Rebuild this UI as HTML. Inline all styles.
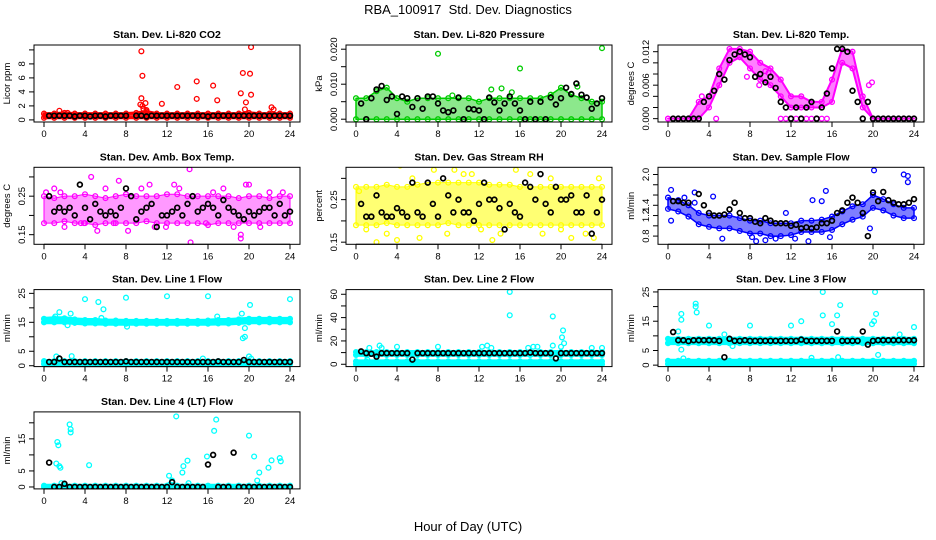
<!DOCTYPE html>
<html><head><meta charset="utf-8"><title>RBA_100917 Std. Dev. Diagnostics</title>
<style>
html,body{margin:0;padding:0;background:#fff;}
svg{display:block;font-family:"Liberation Sans",sans-serif;}
</style></head>
<body>
<svg id="chart" width="936" height="540" viewBox="0 0 936 540" xmlns="http://www.w3.org/2000/svg">
<rect x="0" y="0" width="936" height="540" fill="#fff"/>
<text x="468" y="14" text-anchor="middle" font-size="13">RBA_100917 &#160;Std. Dev. Diagnostics</text>
<text x="468" y="531" text-anchor="middle" font-size="13">Hour of Day (UTC)</text>
</svg>
<script>
const xTicks = [0,4,8,12,16,20,24];

const co2Lo = [0.3,0.3,0.3,0.3,0.3,0.3,0.3,0.3,0.3,0.3,0.3,0.3,0.3,0.3,0.3,0.3,0.3,0.3,0.3,0.3,0.3,0.3,0.3,0.3,0.3];
const co2Hi = [0.9,0.9,1.0,0.9,0.9,0.9,0.9,0.9,0.9,1.0,1.2,0.9,0.9,0.9,0.9,0.9,0.9,0.9,0.9,0.9,1.0,0.9,0.9,0.9,0.9];
const co2Black = [null,0.6,0.6,0.6,0.6,0.6,0.5, 0.6,0.6,0.5,0.6,0.6,0.5,0.6, 0.6,0.6,0.6,null,0.6,0.6,0.5, 0.6,0.6,0.6,0.6,0.6,0.6,0.6, 0.6,0.6,0.6,0.6,0.5,0.6,0.6, 0.6,0.6,0.6,0.6,0.6,0.6,0.6, 0.6,0.6,0.6,0.6,0.6,0.6,0.6];
const co2OutX = [9.5,9.6,9.5,9.4,9.9,9.7,11.5,13,14.9,14.9,16.5,16.9,19.2,19.4,19.7,19.6,20.1,20.2,20.2,22.2,22.4,1.5,2.3,9.6,10.0];
const co2OutY = [9.8,6.3,3.1,2.2,2.4,1.6,2.3,4.7,5.5,3.0,4.9,2.8,3.8,6.7,2.5,1.5,6.6,3.6,10.4,1.8,1.5,1.3,1.0,2.0,1.4];

const presLo = [0,0,0,0,0,0,0,0,0,0,0,0,0,0,0,0,0,0,0,0,0,0,0,0,0];
const presHi = [0.006,0.006,0.008,0.009,0.006,0.005,0.006,0.006,0.006,0.006,0.006,0.006,0.005,0.006,0.006,0.006,0.006,0.006,0.006,0.007,0.009,0.007,0.006,0.005,0.005];
const presBlack = [null,0.0045,0,0.006,0.0085,0.0095,0.0055, 0.0065,0.0015,0.0065,0.006,0.0035,0.006,0.003, 0.0065,0.0065,0.0045,0.0025,0.002,0.0025,0.0062, 0,0.003,0.0028,0.0025,0,0.0062,0.0048, 0.0025,0.0045,0.0065,0.0045,0.0025,0,0.005, 0,0.005,0,0.0062,0.0042,0.006,0.009, 0.0072,0.0102,0.007,0.0062,0.003,0.0045,0.006];
const presOutX = [8,16,24,13.2,14.2,15.2,21.6,9.4];
const presOutY = [0.0187,0.0145,0.0203,0.0085,0.0088,0.0077,0.0093,0.0068];

const tempLo = [0,0,0,0,0.002,0.006,0.010,0.011,0.009,0.007,0.006,0.004,0.002,0.002,0.002,0.002,0.003,0.010,0.009,0.002,0,0,0,0,0];
const tempHi = [0,0,0,0.003,0.004,0.009,0.0125,0.0125,0.012,0.010,0.009,0.007,0.004,0.004,0.003,0.003,0.007,0.0125,0.012,0.004,0,0,0,0,0];
const tempBlack = [null,0,0,0,0,0,0, 0.003,0.004,0.005,0.008,0.007,0.0105,0.0115, 0.012,0.0115,0.011,0.0075,0.008,0.0065,0.0075, 0.0055,0.003,0.002,0,0.002,0,0.002, 0.003,0,0.002,0.0045,0.009,0.0125,0.0125, 0.012,0.005,0.003,0,0.003,0,0, 0,0,0,0,0,0,0];
const tempOutX = [11,11.5,12,12.5,13,13.5,14,14.5,15,15.5,4.7,3.3,9.5,9.8,7.7,19.6,19.9,8.9];
const tempOutY = [0,0,0,0,0,0,0,0,0,0,0,0.004,0.0085,0.0082,0.0075,0.006,0.0065,0.006];

const ambLo = [0.18,0.18,0.185,0.18,0.18,0.175,0.18,0.18,0.18,0.18,0.185,0.18,0.18,0.18,0.18,0.18,0.175,0.18,0.18,0.18,0.18,0.18,0.18,0.18,0.18];
const ambHi = [0.25,0.245,0.25,0.25,0.255,0.25,0.245,0.25,0.255,0.25,0.25,0.25,0.255,0.255,0.25,0.25,0.25,0.25,0.25,0.245,0.25,0.25,0.245,0.25,0.25];
const ambBlack = [null,0.25,0.21,0.22,0.21,0.22,0.20, 0.28,0.22,0.19,0.23,0.21,0.20,0.21, 0.20,0.22,0.27,0.25,0.19,0.21,0.22, 0.23,0.17,0.20,0.20,0.21,0.22,0.20, 0.23,0.25,0.21,0.22,0.23,0.22,0.20, 0.24,0.22,0.21,0.20,0.19,0.21,0.20, 0.21,0.22,0.22,0.20,0.23,0.20,0.21];
const ambOutX = [4.6,3.6,6.8,7.3,9.5,11.9,14.2,14.3,15.8,19.2,19.2,19.7,20,21.1,22,23.3,2,5.2,6,8.2,10.3,12.7,16.5,17.5,1,0.2,10.8,13.2,3.9,1.6,18.5];
const ambOutY = [0.30,0.18,0.18,0.29,0.27,0.17,0.32,0.13,0.18,0.14,0.15,0.28,0.28,0.17,0.26,0.26,0.17,0.16,0.27,0.16,0.28,0.28,0.26,0.27,0.27,0.26,0.17,0.27,0.18,0.26,0.17];

const rhLo = [0.19,0.19,0.19,0.195,0.19,0.19,0.19,0.19,0.19,0.195,0.19,0.19,0.19,0.19,0.19,0.19,0.19,0.19,0.19,0.19,0.19,0.19,0.19,0.19,0.19];
const rhHi = [0.28,0.28,0.28,0.285,0.28,0.28,0.285,0.29,0.29,0.29,0.29,0.29,0.29,0.285,0.285,0.285,0.28,0.28,0.28,0.28,0.28,0.28,0.28,0.28,0.28];
const rhBlack = [null,0.24,0.21,0.21,0.26,0.22,0.21, 0.21,0.23,0.22,0.21,0.29,0.22,0.21, 0.29,0.24,0.21,0.30,0.26,0.22,0.25, 0.22,0.22,0.20,0.24,0.29,0.25,0.25, 0.23,0.18,0.24,0.22,0.21,0.29,0.28, 0.25,0.31,0.24,0.22,0.28,0.25,0.25, 0.26,0.22,0.22,0.26,0.17,0.22,0.25];
const rhOutX = [4.3,2,4,6.2,9.6,11.3,13.3,14.1,17,18.2,21,22.4,23.2,0.3,1,7.6,15.6,20,12.2,3,8.9,19,23.7,10.5,5.5];
const rhOutY = [0.33,0.15,0.155,0.16,0.32,0.31,0.155,0.17,0.31,0.17,0.16,0.17,0.16,0.27,0.18,0.32,0.32,0.18,0.18,0.17,0.17,0.30,0.30,0.31,0.30];

const flowLo = [1.33,1.28,1.18,1.03,0.98,0.95,0.95,0.9,0.85,0.85,0.8,0.8,0.82,0.88,0.88,0.88,0.92,1.03,1.12,1.18,1.35,1.3,1.2,1.15,1.15];
const flowHi = [1.55,1.5,1.4,1.25,1.2,1.2,1.2,1.15,1.1,1.1,1.05,1.05,1.05,1.1,1.1,1.12,1.18,1.28,1.38,1.42,1.6,1.52,1.42,1.35,1.35];
const flowBlack = [null,1.48,1.48,1.45,1.45,null,1.62, 1.4,1.25,1.2,1.2,1.22,1.32,1.45, 1.25,1.15,1.15,1.08,1.05,1.15,1.1, 1.05,1.05,1.05,1.0,1.02,0.95,0.97, 0.95,0.97,1.05,1.05,1.1,1.25,1.3, 1.45,1.55,1.45,1.25,0.8,1.65,1.48, 1.66,1.5,1.45,1.42,1.42,1.45,1.52];
const flowOutX = [0.3,0.3,1.6,2.6,2.6,4.4,15.4,20.1,23,23.4,23.4,8.2,8.6,5.3,12.4,13.7,15.8,19.7,14.1,15,11.5,9.5,10.5];
const flowOutY = [1.7,1.1,1.55,1.65,1.45,1.57,1.68,2.08,2.0,1.97,1.85,0.78,0.7,0.75,0.75,0.7,0.78,0.95,1.5,1.48,1.25,0.72,0.75];

const l1Lo = [15,15,15,14.8,14.6,14.6,14.5,14.5,14.5,14.5,14.5,14.5,14.5,14.5,14.5,14.5,14.5,14.6,14.6,14.8,15,15,15,15,15];
const l1Hi = [16.2,16.4,16.4,16,15.8,15.8,15.6,15.6,15.5,15.5,15.5,15.5,15.5,15.5,15.5,15.5,15.6,15.8,15.8,16,16.2,16.2,16.2,16.2,16.2];
const l1Lo2 = [0.6,0.6,0.6,0.6,0.6,0.6,0.6,0.6,0.6,0.6,0.6,0.6,0.6,0.6,0.6,0.6,0.6,0.6,0.6,0.6,0.6,0.6,0.6,0.6,0.6];
const l1Hi2 = [1.6,1.6,1.6,1.6,1.6,1.6,1.6,1.6,1.6,1.6,1.6,1.6,1.6,1.6,1.6,1.6,1.6,1.6,1.6,1.6,1.6,1.6,1.6,1.6,1.6];
const l1Black = [null,1.3,1.3,2.5,1.3,1.3,1.3, 1.3,1.3,1.3,1.3,1.3,1.3,1.3, 1.3,1.3,1.5,1.3,1.3,1.3,1.3, 1.3,1.3,1.3,1.3,1.3,1.3,1.3, 1.3,1.3,1.3,1.3,1.3,1.3,1.5, 1.3,1.3,1.3,1.3,2.0,1.3,1.3, 1.3,1.3,1.3,1.3,1.3,1.3,1.3];
const l1OutX = [1.5,1.1,2.6,2.3,4,5.3,5.6,5.8,8,8.1,12,16,16.9,19.3,19.6,19.4,19.6,20.1,24,1.2,2.7,15.5,20,20.2];
const l1OutY = [18.5,17,18,14,23,22,16.5,19.5,23.5,13.5,24,24,17,18,13,9.5,10,21,23,3.2,3.3,2.5,3.2,2.5];

const l2Lo = [8,8,8,8,8,8,8,8,8,8,8,8,8,8,8,8,8,8,8,8,8,8,8,8,8];
const l2Hi = [10.5,10.5,10.5,10.5,10.5,10.5,10.5,10.5,10.5,10.5,10.5,10.5,10.5,10.5,10.5,10.5,10.5,10.5,10.5,10.5,10.5,10.5,10.5,10.5,10.5];
const l2Lo2 = [0,0,0,0,0,0,0,0,0,0,0,0,0,0,0,0,0,0,0,0,0,0,0,0,0];
const l2Hi2 = [2.5,2.5,2.5,2.5,2.5,2.5,2.5,2.5,2.5,2.5,2.5,2.5,2.5,2.5,2.5,2.5,2.5,2.5,2.5,2.5,2.5,2.5,2.5,2.5,2.5];
const l2Black = [null,11,9.5,9,6.5,9.5,9.5, 9.5,9.5,9.5,9.5,4,9.5,9.5, 9.5,9.5,9.5,9.5,9.5,9.5,9.5, 9.5,9.5,9.5,9.5,9.5,9.5,9.5, 9.5,9.5,9.5,9.5,9.5,9.5,10, 9.5,9.5,9.5,9.5,5,9.5,9.5, 9.5,9.5,9.5,9.5,9.5,9.5,9.5];
const l2OutX = [15,15,19.2,20.2,20.1,20.3,20,1.3,2.3,2.5,4,8,12.3,12.8,13.2,16.8,17.3,17.7,19.2,23,24,1.1,19.8];
const l2OutY = [62,42,41,29,23,18,15,14,16,14,15,15,15,16,14,14,15,15,16,14,14,4,8];

const l3Lo = [7.5,7.5,7.5,7.5,7.5,7.5,7.5,7.5,7.5,7.5,7.5,7.5,7.5,7.5,7.5,7.5,7.5,7.5,7.5,7.5,7.5,7.5,7.5,7.5,7.5];
const l3Hi = [9,9,9,9,9,9,9,9,9,9,9,9,9,9,9,9,9,9,9,9,9,9,9,9,9];
const l3Lo2 = [0.4,0.4,0.4,0.4,0.4,0.4,0.4,0.4,0.4,0.4,0.4,0.4,0.4,0.4,0.4,0.4,0.4,0.4,0.4,0.4,0.4,0.4,0.4,0.4,0.4];
const l3Hi2 = [1.5,1.5,1.5,1.5,1.5,1.5,1.5,1.5,1.5,1.5,1.5,1.5,1.5,1.5,1.5,1.5,1.5,1.5,1.5,1.5,1.5,1.5,1.5,1.5,1.5];
const l3Black = [null,11.3,8.5,8.5,8.2,8.5,8.5, 8.5,8.5,8.5,8.3,2.7,9,8.3, 8.3,8.5,8.3,8.3,8.3,8.3,8.3, 8.3,8.3,8.3,8.3,8.3,8.7,8.3, 8.3,8.3,8.3,8.3,8.3,11.5,8.3, 8.3,8.3,8.3,11.5,7,8.3,8.5, 8.5,8.5,8.5,8.5,8.5,8.5,8.5];
const l3OutX = [1.3,1.3,1.3,1.5,2.7,2.7,2.8,4,8,12,13,15.1,15.1,16,16.5,16.8,19.9,20.1,20.2,20.3,20.5,22.6,24,5.5,6.3,1,16.6,14];
const l3OutY = [17.5,15.5,5.3,2.3,21,20,18,13.5,13.5,13.5,15,25,17,14,17,20.5,14,15,25,17.5,3.5,10.5,13,10.5,6.5,11.5,2.7,2.5];

const l4Lo = [0,0,0,0,0,0,0,0,0,0,0,0,0,0,0,0,0,0,0,0,0,0,0,0,0];
const l4Hi = [0.4,0.4,0.4,0.4,0.4,0.4,0.4,0.4,0.4,0.4,0.4,0.4,0.4,0.4,0.4,0.4,0.4,0.4,0.4,0.4,0.4,0.4,0.4,0.4,0.4];
const l4Black = [null,7.6,0,0,1.0,0,0, 0,0,0,0,0,0,0, 0,0,0,0,0,0,0, 0,0,0,0,1.5,0,0, 0,0,0,0,7,10,0, 0,0,10.7,0,0,0,0, 0,0,0,0,0,0,0];
const l4OutX = [1.3,1.4,1.6,1.5,1.2,2.5,2.6,2.6,4.4,12.9,12.2,12.5,13.5,13.6,14,14.1,15.9,16.6,16.8,20,20.5,21,20.8,21.9,22.2,23,23.1,1.7,12.3];
const l4OutY = [14,13,6,6.5,7.3,19.5,18,17,6.8,22,3.5,2,4.5,6.5,8.2,1.2,9.5,17.5,21,16,9.5,4.5,2,6,8.3,9,8,1.2,0.8];

const panels = [
 {name:'co2',title:'Stan. Dev. Li-820 CO2',ylab:'Licor ppm',col:0,row:0,ymin:-0.3,ymax:10.7,ticks:[0,2,4,6,8,10],labels:['0','2','4','6','8',''],color:'#ff0000',op:0.8,sw:3,bands:[[co2Lo,co2Hi]],black:co2Black,ox:co2OutX,oy:co2OutY},
 {name:'pressure',title:'Stan. Dev. Li-820 Pressure',ylab:'kPa',col:1,row:0,ymin:-0.0008,ymax:0.0212,ticks:[0,0.005,0.01,0.015,0.02],labels:['0.000','','0.010','','0.020'],color:'#00cc00',op:0.45,sw:1.5,bands:[[presLo,presHi]],black:presBlack,ox:presOutX,oy:presOutY},
 {name:'temp',title:'Stan. Dev. Li-820 Temp.',ylab:'degrees C',col:2,row:0,ymin:-0.0006,ymax:0.0132,ticks:[0,0.002,0.004,0.006,0.008,0.01,0.012],labels:['0.000','','','0.006','','','0.012'],color:'#ff00ff',op:0.5,sw:2,bands:[[tempLo,tempHi]],black:tempBlack,ox:tempOutX,oy:tempOutY},
 {name:'amb-box-temp',title:'Stan. Dev. Amb. Box Temp.',ylab:'degrees C',col:0,row:1,ymin:0.125,ymax:0.325,ticks:[0.15,0.2,0.25,0.3],labels:['0.15','','0.25',''],color:'#ff00ff',op:0.4,sw:1,bands:[[ambLo,ambHi]],black:ambBlack,ox:ambOutX,oy:ambOutY},
 {name:'gas-rh',title:'Stan. Dev. Gas Stream RH',ylab:'percent',col:1,row:1,ymin:0.145,ymax:0.326,ticks:[0.15,0.2,0.25,0.3],labels:['0.15','','0.25',''],color:'#ffff00',op:0.55,sw:1,bands:[[rhLo,rhHi]],black:rhBlack,ox:rhOutX,oy:rhOutY},
 {name:'sample-flow',title:'Stan. Dev. Sample Flow',ylab:'ml/min',col:2,row:1,ymin:0.64,ymax:2.14,ticks:[0.8,1.0,1.2,1.4,1.6,1.8,2.0],labels:['0.8','','1.2','1.4','','','2.0'],color:'#0000ff',op:0.5,sw:1.5,bands:[[flowLo,flowHi]],black:flowBlack,ox:flowOutX,oy:flowOutY},
 {name:'line1-flow',title:'Stan. Dev. Line 1 Flow',ylab:'ml/min',col:0,row:2,ymin:-0.3,ymax:26.3,ticks:[0,5,10,15,20,25],labels:['0','5','','15','','25'],color:'#00ffff',op:0.9,sw:4,bands:[[l1Lo,l1Hi],[l1Lo2,l1Hi2]],black:l1Black,ox:l1OutX,oy:l1OutY},
 {name:'line2-flow',title:'Stan. Dev. Line 2 Flow',ylab:'ml/min',col:1,row:2,ymin:-2,ymax:64,ticks:[0,10,20,30,40,50,60],labels:['0','','20','','40','','60'],color:'#00ffff',op:0.9,sw:4,bands:[[l2Lo,l2Hi],[l2Lo2,l2Hi2]],black:l2Black,ox:l2OutX,oy:l2OutY},
 {name:'line3-flow',title:'Stan. Dev. Line 3 Flow',ylab:'ml/min',col:2,row:2,ymin:-0.5,ymax:25.8,ticks:[0,5,10,15,20,25],labels:['0','5','','15','','25'],color:'#00ffff',op:0.9,sw:4,bands:[[l3Lo,l3Hi],[l3Lo2,l3Hi2]],black:l3Black,ox:l3OutX,oy:l3OutY},
 {name:'line4-flow',title:'Stan. Dev. Line 4 (LT) Flow',ylab:'ml/min',col:0,row:3,ymin:-0.6,ymax:23.4,ticks:[0,5,10,15,20],labels:['0','5','','15',''],color:'#00ffff',op:0.9,sw:4,bands:[[l4Lo,l4Hi]],black:l4Black,ox:l4OutX,oy:l4OutY}
];

const NS='http://www.w3.org/2000/svg';
const svg=document.getElementById('chart');
function mk(tag,attrs,parent){const e=document.createElementNS(NS,tag);for(const k in attrs)e.setAttribute(k,attrs[k]);(parent||svg).appendChild(e);return e;}

panels.forEach(p=>{
  const L=34+312*p.col, R=300+312*p.col, T=45+122.3*p.row, B=T+77;
  const X=h=>L+10+h*(R-L-20)/24;
  const Y=v=>B-(v-p.ymin)/(p.ymax-p.ymin)*(B-T);
  const g=mk('g',{});
  
  
  const clip=mk('clipPath',{id:'clip-'+p.name},g);
  mk('rect',{x:L,y:T,width:R-L,height:B-T},clip);
  const marks=mk('g',{'clip-path':'url(#clip-'+p.name+')'},g);
  
  
  p.bands.forEach((b,bi)=>{
    const lo=b[0],hi=b[1];
    const top=hi.map((v,i)=>X(i)+','+Y(v));
    const bot=lo.map((v,i)=>X(i)+','+Y(v)).reverse();
    const poly=mk('polygon',{points:top.concat(bot).join(' '),fill:p.color,'fill-opacity':p.op,stroke:p.color,'stroke-width':p.sw,'stroke-linejoin':'round'},marks);
    
    
    [lo,hi].forEach(arr=>arr.forEach((v,i)=>{
      const c=mk('circle',{cx:X(i),cy:Y(v),r:2.4,fill:'none',stroke:p.color,'stroke-width':1.3},marks);
      
      
    }));
  });
  p.ox.forEach((h,i)=>{
    const c=mk('circle',{cx:X(h),cy:Y(p.oy[i]),r:2.4,fill:'none',stroke:p.color,'stroke-width':1.3},marks);
    
    
  });
  p.black.forEach((v,i)=>{
    if(v===null)return;
    const c=mk('circle',{cx:X(i*0.5),cy:Y(v),r:2.4,fill:'none',stroke:'#000','stroke-width':1.7},marks);
    
    
  });
  const box=mk('rect',{x:L,y:T,width:R-L,height:B-T,fill:'none',stroke:'#000','stroke-width':1},g);
  
  
  mk('line',{x1:X(0),x2:X(24),y1:B,y2:B,stroke:'#000'},g);
  xTicks.forEach(t=>{
    mk('line',{x1:X(t),x2:X(t),y1:B,y2:B+5,stroke:'#000'},g);
    const tx=mk('text',{x:X(t),y:B+15,'text-anchor':'middle','font-size':9.5},g);
    tx.textContent=t;
    
    
  });
  p.ticks.forEach((t,i)=>{
    const y=Y(t);
    mk('line',{x1:L-5,x2:L,y1:y,y2:y,stroke:'#000'},g);
    if(p.labels[i]){
      const tx=mk('text',{x:L-9,y:y,'text-anchor':'middle','font-size':9.5,transform:'rotate(-90 '+(L-9)+' '+y+')'},g);
      tx.textContent=p.labels[i];
      
      
    }
  });
  const yl=mk('text',{x:L-24,y:(T+B)/2,'text-anchor':'middle','font-size':9.5,transform:'rotate(-90 '+(L-24)+' '+((T+B)/2)+')'},g);
  yl.textContent=p.ylab;
  
  
  const tt=mk('text',{x:(L+R)/2,y:T-7,'text-anchor':'middle','font-size':10.5,'font-weight':'bold'},g);
  tt.textContent=p.title;
  
  
});
</script>
</body></html>
